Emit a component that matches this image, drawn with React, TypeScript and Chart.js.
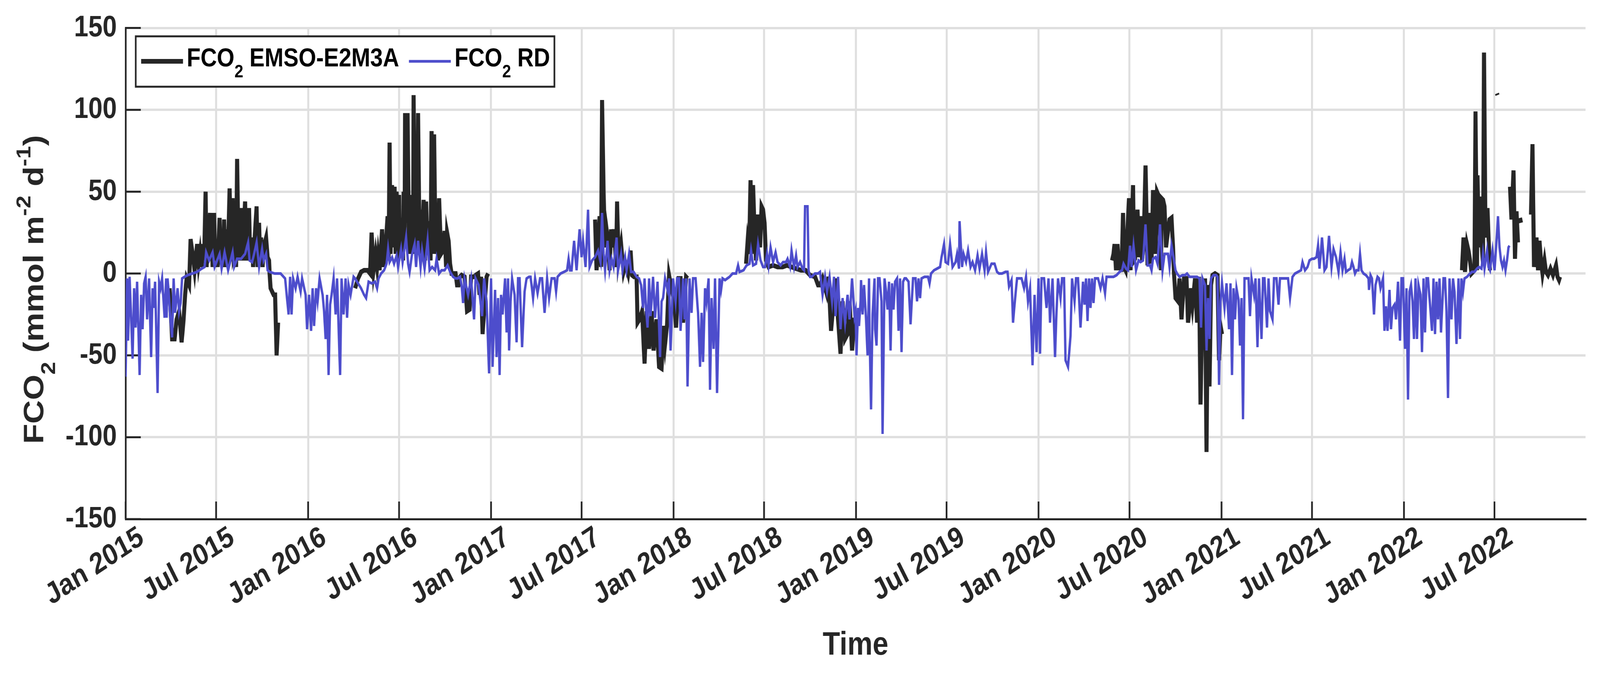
import { useEffect, useRef } from "react"
import { Chart, registerables } from "chart.js"

Chart.register(...registerables)

// x ticks: first of January / July
const tickDates = [
  "2015-01-01", "2015-07-01", "2016-01-01", "2016-07-01",
  "2017-01-01", "2017-07-01", "2018-01-01", "2018-07-01",
  "2019-01-01", "2019-07-01", "2020-01-01", "2020-07-01",
  "2021-01-01", "2021-07-01", "2022-01-01", "2022-07-01",
]
const tickLabels = [
  "Jan 2015", "Jul 2015", "Jan 2016", "Jul 2016",
  "Jan 2017", "Jul 2017", "Jan 2018", "Jul 2018",
  "Jan 2019", "Jul 2019", "Jan 2020", "Jul 2020",
  "Jan 2021", "Jul 2021", "Jan 2022", "Jul 2022",
]
const yTicks = [-150, -100, -50, 0, 50, 100, 150]

// [days since 1 Jan 2015, FCO2 in mmol m-2 d-1], null = no data
const emsoPoints: [number, number | null][] = [
  [88,-9],[93,-40],[98,-40],[102,-28],[107,-23],[112,-42],[116,-28],[119,-13],[122,-3],[127,-7],
  [130,21],[135,10],[138,2],[143,18],[146,6],[149,13],[152,4],[155,18],[157,8],[160,50],[162,4],
  [164,16],[169,37],[171,8],[172,27],[174,4],[177,37],[179,8],[181,16],[184,4],[188,34],[190,6],
  [192,16],[195,4],[197,33],[199,8],[202,27],[203,4],[205,16],[208,52],[211,8],[214,46],[216,12],
  [219,16],[221,4],[223,70],[226,8],[228,16],[231,40],[233,8],[236,25],[239,44],[241,8],[243,16],
  [247,40],[249,8],[253,22],[255,4],[257,16],[262,41],[264,4],[267,31],[269,8],[271,22],[274,4],
  [276,16],[281,22],[284,10],[287,8],[288,0],[290,-9],[293,-11],[296,-13],[299,-13],[302,-50],
  [305,-30],[306,null],
  [459,-9],[465,-3],[471,1],[477,2],[484,2],[489,0],[492,25],[496,2],[500,12],[503,4],[505,11],
  [508,2],[510,12],[513,27],[516,4],[517,8],[520,16],[524,35],[526,8],[528,80],[530,12],[533,54],
  [536,16],[538,53],[540,12],[542,50],[545,8],[547,48],[548,16],[553,34],[555,8],[556,50],[558,16],
  [559,98],[562,31],[564,98],[567,12],[570,48],[572,12],[573,48],[575,16],[576,109],[579,12],
  [582,68],[584,12],[585,98],[588,12],[590,39],[593,16],[596,45],[599,8],[601,44],[604,12],[607,32],
  [610,8],[612,87],[614,12],[617,85],[620,12],[623,29],[625,8],[627,46],[631,12],[635,14],[638,26],
  [641,4],[643,25],[646,20],[649,6],[652,0],[655,0],[660,0],[663,-7],[666,-7],[669,-2],[672,-1],
  [678,-2],[683,-23],[688,-22],[691,-2],[697,-2],[700,-1],[705,0],[708,-13],[711,-2],[714,-37],
  [717,-23],[722,-2],[725,0],[726,null],
  [939,33],[942,2],[945,16],[948,35],[951,4],[953,106],[956,50],[959,16],[962,27],[965,20],[968,2],
  [971,27],[973,16],[976,27],[979,16],[981,4],[983,44],[986,8],[991,18],[996,1],[1000,6],[1005,0],
  [1010,14],[1013,-1],[1017,-2],[1022,-2],[1024,-30],[1028,-28],[1033,-23],[1038,-55],[1042,-23],
  [1047,-46],[1052,-23],[1056,-47],[1062,-28],[1067,-57],[1072,-58],[1076,-32],[1079,-43],
  [1083,-31],[1087,-1],[1092,-9],[1097,-17],[1101,-33],[1106,-3],[1110,-3],[1115,-30],[1121,-2],
  [1124,-3],[1125,null],
  [1241,6],[1244,19],[1247,12],[1250,57],[1252,12],[1255,54],[1258,27],[1261,8],[1265,36],[1269,16],
  [1272,41],[1275,39],[1278,31],[1281,8],[1286,4],[1295,5],[1304,4],[1314,4],[1323,5],[1332,4],
  [1341,3],[1351,2],[1360,2],[1369,-1],[1379,-2],[1385,-7],[1389,-7],[1394,-3],[1402,-12],[1406,-2],
  [1411,-35],[1416,-17],[1420,-3],[1425,-28],[1430,-49],[1434,-17],[1439,-40],[1444,-37],[1448,-17],
  [1453,-47],[1458,-27],[1459,null],
  [1973,8],[1976,12],[1978,18],[1981,2],[1984,18],[1987,2],[1988,13],[1992,1],[1995,37],[1997,4],
  [2000,2],[2002,16],[2007,46],[2010,2],[2015,54],[2017,8],[2019,9],[2024,39],[2027,10],[2030,35],
  [2033,8],[2036,16],[2040,66],[2044,5],[2049,37],[2052,6],[2055,51],[2060,12],[2063,50],[2067,47],
  [2071,2],[2072,46],[2075,45],[2078,41],[2081,16],[2085,26],[2088,33],[2092,34],[2095,16],[2097,0],
  [2100,-15],[2105,-17],[2108,-3],[2112,-28],[2117,-3],[2122,-3],[2125,-30],[2129,-19],[2131,-9],
  [2134,-19],[2139,-3],[2143,-30],[2147,-2],[2150,-80],[2153,-32],[2156,-42],[2159,-3],[2162,-109],
  [2165,-7],[2168,-69],[2171,-7],[2174,-1],[2179,0],[2184,-1],[2187,-53],[2190,-32],[2193,-37],
  [2194,null],
  [2673,2],[2676,22],[2679,1],[2683,18],[2686,14],[2689,8],[2692,0],[2698,2],[2700,99],[2703,2],
  [2704,60],[2707,16],[2709,47],[2712,20],[2715,6],[2717,135],[2720,22],[2724,40],[2728,6],[2729,2],
  [2730,null],[2743,110],[2744,109],[2745,null],
  [2769,53],[2772,33],[2776,63],[2779,9],[2782,38],[2785,19],[2786,null],[2789,34],[2791,31],
  [2792,null],
  [2811,36],[2814,79],[2817,4],[2822,22],[2825,2],[2828,20],[2831,8],[2834,0],[2838,8],[2841,1],
  [2845,-1],[2850,3],[2855,-1],[2861,5],[2864,-2],[2867,-4],[2869,-2],
]

const rdPoints: [number, number][] = [
  [0,-63],[3,-3],[5,-41],[8,-2],[14,-52],[17,-9],[20,-33],[23,-5],[28,-62],[31,-13],[34,-34],[37,-6],
  [40,-2],[43,-28],[47,-3],[51,-51],[54,-9],[56,-21],[59,-5],[64,-73],[67,-5],[70,-9],[73,-3],
  [78,-27],[81,-3],[82,-27],[84,-3],[87,-15],[90,-30],[93,-39],[96,-3],[99,-24],[104,-9],[107,-23],
  [110,-18],[113,-3],[118,-2],[124,-1],[133,0],[143,1],[152,3],[158,4],[161,13],[167,8],[174,13],
  [178,4],[188,12],[192,3],[198,13],[205,2],[214,13],[217,4],[223,9],[231,9],[239,12],[245,19],
  [248,8],[253,7],[257,12],[262,19],[267,4],[273,15],[276,8],[281,12],[284,2],[288,1],[298,0],
  [310,0],[319,-3],[326,-25],[329,-2],[332,-25],[335,-3],[340,-9],[344,-2],[350,-11],[353,-3],
  [360,-13],[363,-34],[367,-13],[371,-35],[374,-9],[377,-32],[381,-9],[384,-17],[388,-3],[394,-13],
  [397,-23],[400,-40],[403,-13],[406,-62],[409,-19],[412,-13],[416,-3],[420,-25],[423,-3],[429,-62],
  [432,-3],[436,-25],[440,-3],[443,-27],[446,-7],[450,-13],[456,-2],[459,-3],[465,-6],[471,-9],
  [477,-13],[481,-15],
  [486,-5],[492,-6],[499,-5],[503,-9],[506,-3],[511,0],[517,2],[522,6],[525,15],[528,7],[533,10],
  [537,6],[542,11],[545,4],[551,15],[554,7],[561,22],[565,6],[568,1],[573,12],[578,18],[581,4],
  [585,20],[590,4],[593,14],[598,3],[604,20],[608,2],[613,4],[619,2],[622,9],[627,0],[632,2],
  [638,2],[644,5],[649,1],[655,-2],[660,-3],[664,-3],[669,-2],[672,-7],[675,-18],[678,-3],[685,-13],
  [691,-3],[697,-28],[700,-3],[706,-7],[713,-26],[717,-3],[722,-17],[727,-61],[731,-3],[734,-57],
  [739,-10],[742,-51],[745,-15],[748,-62],[751,-13],[754,-25],[759,-3],[762,-36],[765,-3],[767,-47],
  [770,-17],[773,-3],[778,-13],[782,-42],[785,-3],[788,-3],[793,-45],[798,-11],[802,-3],[807,-2],
  [810,-2],[815,-15],[819,-3],[824,-12],[829,-3],[833,-3],[838,-24],[843,-3],[847,-15],[852,-3],
  [858,-3],[861,-11],[864,-2],[870,0],[877,1],[883,2],[886,9],[889,2],[892,2],[897,20],[902,2],
  [908,27],[912,10],[915,20],[920,4],[925,39],[928,4],[933,8],[939,10],[945,14],[950,7],[953,37],
  [956,12],[959,2],[964,20],[968,2],[972,9],
  [976,4],[982,22],[985,2],[991,12],[994,2],[999,10],[1002,2],[1007,12],[1011,1],[1016,1],[1022,-2],
  [1027,-3],[1031,-7],[1035,-21],[1038,-3],[1041,-22],[1044,-33],[1047,-3],[1050,-26],[1055,-2],
  [1059,-27],[1064,-5],[1069,-51],[1072,-17],[1075,-15],[1079,-3],[1084,-10],[1087,-3],[1090,-47],
  [1095,-3],[1100,-17],[1103,-3],[1107,-3],[1110,-35],[1115,-3],[1118,-28],[1121,-3],[1124,-69],
  [1128,-3],[1132,-24],[1135,-3],[1140,-3],[1145,-24],[1149,-57],[1152,-24],[1155,-54],[1159,-9],
  [1162,-17],[1166,-3],[1169,-71],[1172,-15],[1176,-46],[1179,-3],[1183,-73],[1188,-3],[1191,-10],
  [1194,-3],[1199,-4],[1208,-2],[1214,0],[1221,0],[1225,5],[1228,1],[1236,2],[1242,5],[1248,6],
  [1251,14],[1255,5],[1261,6],[1265,18],[1270,8],[1275,4],[1279,4],[1283,12],[1286,5],[1290,16],
  [1295,7],[1300,13],[1304,7],[1310,5],[1315,7],[1321,7],[1324,9],[1329,4],[1332,14],[1337,4],
  [1341,11],[1344,4],[1349,7],[1354,3],[1357,2],[1359,41],[1364,41],[1366,2],[1369,-2],[1372,-2],
  [1379,0],[1385,0],[1389,1],[1394,-13],[1399,-2],[1403,-11],[1408,-2],[1413,-17],[1417,-2],
  [1420,-26],[1425,-2],[1430,-34],[1434,-15],[1439,-30],[1444,-13],[1448,-28],[1453,-3],[1458,-26],
  [1460,-23],[1462,-50],[1465,-21],[1467,-32],[1470,-17],[1471,-4],[1474,-25],[1477,-7],[1481,-28],
  [1484,-50],[1487,-3],[1488,-36],[1491,-83],[1494,-25],[1498,-3],[1499,-34],[1502,-44],[1505,-3],
  [1508,-3],[1512,-17],[1514,-98],[1518,-3],[1521,-11],[1524,-22],[1527,-5],[1530,-47],[1533,-6],
  [1536,-22],[1539,-5],[1543,-3],[1546,-35],[1549,-3],[1552,-48],[1555,-5],[1558,-3],[1561,-3],
  [1566,-5],[1570,-31],[1575,-3],[1580,-3],[1583,-17],[1586,-3],[1589,-15],[1592,-3],[1598,-2],
  [1605,-2],[1608,-6],[1611,0],[1617,2],[1623,3],[1629,4],[1632,10],[1637,18],[1640,7],[1645,6],
  [1649,18],[1654,4],[1660,7],[1663,12],[1667,3],[1668,32],[1673,4],[1676,12],[1681,7],[1685,14],
  [1690,4],[1694,7],[1699,2],[1704,11],[1708,3],[1713,12],[1718,2],[1721,13],[1725,1],[1732,6],
  [1738,6],[1743,1],[1747,0],[1753,0],[1760,1],[1764,1],[1767,-8],[1772,-4],[1775,-30],[1778,-19],
  [1783,-3],[1787,-3],[1792,-3],[1797,-9],[1801,-2],[1805,-17],[1809,-9],[1814,-56],[1818,-13],
  [1822,-48],[1826,-3],[1829,-49],[1832,-3],[1837,-3],[1842,-21],[1846,-3],[1849,-30],[1854,-3],
  [1859,-51],[1862,-23],[1865,-3],[1870,-15],[1873,-3],[1877,-3],[1880,-53],[1885,-57],[1890,-38],
  [1893,-3],[1898,-17],[1901,-3],[1905,-3],[1910,-33],[1915,-5],[1918,-19],[1921,-3],[1924,-29],
  [1927,-3],[1930,-21],[1933,-3],[1936,-18],[1939,-3],[1945,-3],
  [1950,-9],[1954,-3],[1959,-12],[1962,-2],[1968,-2],[1976,-2],[1982,-1],[1988,1],[1993,2],[1996,6],
  [2001,3],[2005,2],[2009,17],[2012,4],[2016,17],[2021,2],[2026,8],[2030,7],[2035,8],[2040,30],
  [2044,5],[2049,5],[2052,2],[2055,9],[2060,10],[2064,6],[2069,30],[2074,2],[2078,12],[2085,12],
  [2088,4],[2092,17],[2097,8],[2100,2],[2103,0],[2108,-2],[2114,-1],[2119,-1],[2123,0],[2128,-2],
  [2133,-2],[2137,-2],[2143,-2],[2148,-3],[2151,-33],[2154,-3],[2159,-7],[2162,-47],[2165,-15],
  [2168,-40],[2171,-3],[2176,-1],[2181,-1],[2184,-2],[2187,-68],[2190,-17],[2193,-6],[2198,-21],
  [2202,-6],[2207,-34],[2210,-6],[2213,-62],[2216,-9],[2219,-28],[2222,-9],[2226,-16],[2229,-44],
  [2232,-15],[2235,-89],[2238,-3],[2241,-3],[2246,-3],[2249,-26],[2252,-3],[2257,-13],[2260,-3],
  [2264,-45],[2267,-3],[2272,-40],[2275,-3],[2278,-3],[2283,-33],[2286,-3],[2289,-23],[2294,-28],
  [2297,-3],[2302,-3],[2306,-19],[2309,-3],[2314,-3],[2320,-3],[2325,-3],[2329,-15],[2334,-2],
  [2339,0],[2345,1],[2351,2],[2354,7],[2359,2],[2364,4],[2368,8],[2373,9],[2377,9],[2382,10],
  [2385,17],[2388,3],[2393,22],[2398,2],[2402,4],[2407,23],[2412,4],[2416,15],[2421,10],[2426,1],
  [2430,13],
  [2434,2],[2438,9],[2441,1],[2445,2],[2450,3],[2453,7],[2456,4],[2459,0],[2462,2],[2466,2],[2469,12],
  [2472,2],[2476,0],[2481,-1],[2486,-3],[2487,-10],[2490,-1],[2493,-3],[2497,-25],[2500,-7],[2504,-2],
  [2507,-3],[2510,-9],[2515,-3],[2518,-35],[2521,-20],[2524,-35],[2528,-10],[2531,-34],[2534,-21],
  [2538,-19],[2541,-28],[2545,-5],[2549,-41],[2552,-3],[2555,-3],[2559,-46],[2562,-9],[2565,-77],
  [2568,-11],[2571,-7],[2574,-17],[2577,-40],[2580,-3],[2583,-40],[2586,-7],[2590,-13],[2593,-48],
  [2596,-3],[2599,-36],[2602,-3],[2605,-3],[2610,-23],[2613,-35],[2616,-3],[2619,-37],[2622,-5],
  [2625,-28],[2628,-3],[2631,-36],[2636,-3],[2639,-3],[2642,-23],[2645,-76],[2648,-3],[2652,-28],
  [2655,-3],[2658,-11],[2662,-43],[2666,-3],[2669,-40],[2672,-3],[2675,-11],[2678,-3],[2683,-2],
  [2686,-1],[2689,0],[2693,1],[2698,1],[2703,3],[2707,4],[2712,3],[2715,12],[2718,3],[2723,14],
  [2726,4],[2729,2],[2734,14],[2738,2],[2741,15],[2745,35],[2748,16],[2751,8],[2754,4],[2757,8],
  [2760,2],[2763,8],[2766,16],[2768,17],
]

const DAY0 = Date.UTC(2015, 0, 1)
const toDay = (iso: string) => (Date.parse(iso + "T00:00:00Z") - DAY0) / 86400000
const tickDays = tickDates.map(toDay)

const ink = "#262626"
const blue = "rgb(77,77,204)"
const family = '"Liberation Sans", Arial, Helvetica, sans-serif'

type Part = [string, "" | "sub" | "sup"]

// draws text with TeX-like sub/superscripts, returns its width
function rich(ctx: CanvasRenderingContext2D, parts: Part[], x: number, y: number, size: number, draw = true) {
  let cx = x
  for (const [text, kind] of parts) {
    const fs = kind ? size * 0.7 : size
    ctx.font = `bold ${fs}px ${family}`
    const dy = kind === "sub" ? size * 0.42 : kind === "sup" ? -size * 0.45 : 0
    if (draw) ctx.fillText(text, cx, y + dy)
    cx += ctx.measureText(text).width
  }
  return cx - x
}

const yTitle: Part[] = [["FCO", ""], ["2", "sub"], [" (mmol m", ""], ["-2", "sup"], [" d", ""], ["-1", "sup"], [")", ""]]
const legendItems: { parts: Part[]; color: string; width: number }[] = [
  { parts: [["FCO", ""], ["2", "sub"], [" EMSO-E2M3A", ""]], color: ink, width: 12 },
  { parts: [["FCO", ""], ["2", "sub"], [" RD", ""]], color: blue, width: 7 },
]

const matlabLook = {
  id: "matlabLook",
  beforeDatasetsDraw(chart: any) {
    // inward tick marks
    const { ctx, chartArea } = chart
    const { x, y } = chart.scales
    ctx.save()
    ctx.strokeStyle = ink
    ctx.lineWidth = 5
    ctx.beginPath()
    for (const t of y.ticks) {
      const py = y.getPixelForValue(t.value)
      ctx.moveTo(chartArea.left, py)
      ctx.lineTo(chartArea.left + 45, py)
    }
    for (const t of x.ticks) {
      const px = x.getPixelForValue(t.value)
      ctx.moveTo(px, chartArea.bottom)
      ctx.lineTo(px, chartArea.bottom - 45)
    }
    ctx.stroke()
    ctx.restore()
  },
  afterDraw(chart: any) {
    const { ctx } = chart
    ctx.save()
    ctx.fillStyle = ink
    ctx.textBaseline = "alphabetic"
    ctx.textAlign = "left"

    // y axis title, rotated
    const size = 84
    const w = rich(ctx, yTitle, 0, 0, size, false)
    ctx.translate(128, 741)
    ctx.rotate(-Math.PI / 2)
    rich(ctx, yTitle, -w / 2, 0, size)
    ctx.setTransform(1, 0, 0, 1, 0, 0)

    // legend box
    const fs = 67
    const widths = legendItems.map((it) => rich(ctx, it.parts, 0, 0, fs, false))
    const left = 402, top = 93, height = 129, lineLen = 124
    let total = 16
    widths.forEach((tw, i) => { total += lineLen + 11 + tw + (i < widths.length - 1 ? 29 : 13) })
    ctx.fillStyle = "#ffffff"
    ctx.fillRect(left, top, total, height)
    ctx.strokeStyle = ink
    ctx.lineWidth = 5
    ctx.strokeRect(left, top, total, height)
    let cx = left + 16
    legendItems.forEach((it, i) => {
      ctx.strokeStyle = it.color
      ctx.lineWidth = it.width
      ctx.beginPath()
      ctx.moveTo(cx, 157)
      ctx.lineTo(cx + lineLen, 157)
      ctx.stroke()
      cx += lineLen + 11
      ctx.fillStyle = "#000000"
      rich(ctx, it.parts, cx, 170, fs)
      cx += widths[i] + 29
    })
    ctx.restore()
  },
}

export default function App() {
  const canvasRef = useRef<HTMLCanvasElement>(null)
  const chartRef = useRef<Chart | null>(null)

  useEffect(() => {
    document.body.style.margin = "0"
    document.body.style.overflow = "hidden"
    if (!canvasRef.current) return
    if (chartRef.current) chartRef.current.destroy()

    chartRef.current = new Chart(canvasRef.current, {
      type: "line",
      data: {
        datasets: [
          {
            label: "FCO2 EMSO-E2M3A",
            data: emsoPoints.map(([d, v]) => ({ x: d, y: v })),
            borderColor: ink,
            borderWidth: 12,
            pointRadius: 0,
            spanGaps: false,
            order: 2,
          },
          {
            label: "FCO2 RD",
            data: rdPoints.map(([d, v]) => ({ x: d, y: v })),
            borderColor: blue,
            borderWidth: 7,
            pointRadius: 0,
            order: 1,
          },
        ],
      },
      options: {
        responsive: false,
        animation: false,
        devicePixelRatio: 1,
        events: [],
        layout: { padding: { left: 0, right: 43, top: 63, bottom: 0 } },
        plugins: { legend: { display: false }, tooltip: { enabled: false } },
        scales: {
          x: {
            type: "linear",
            min: 0,
            max: 2920,
            afterBuildTicks: (s: any) => { s.ticks = tickDays.map((v) => ({ value: v })) },
            afterFit: (s: any) => { s.height = 394 },
            grid: { color: "#dfdfdf", lineWidth: 6, drawTicks: false },
            border: { color: ink, width: 5 },
            ticks: {
              autoSkip: false,
              minRotation: 30,
              maxRotation: 30,
              padding: 2,
              labelOffset: 48,
              color: ink,
              font: { family, size: 76, weight: "bold" },
              callback: (v: any) => tickLabels[tickDays.indexOf(Number(v))] ?? "",
            },
            title: {
              display: true,
              text: "Time",
              color: ink,
              font: { family, size: 84, weight: "bold" },
              padding: { top: 0, bottom: 20 },
            },
          },
          y: {
            min: -150,
            max: 150,
            afterBuildTicks: (s: any) => { s.ticks = yTicks.map((v) => ({ value: v })) },
            afterFit: (s: any) => { s.width = 372 },
            grid: { color: "#dfdfdf", lineWidth: 6, drawTicks: false },
            border: { color: ink, width: 5 },
            ticks: {
              padding: 26,
              color: ink,
              font: { family, size: 76, weight: "bold" },
            },
          },
        },
      },
      plugins: [matlabLook],
    } as any)

    return () => {
      if (chartRef.current) {
        chartRef.current.destroy()
        chartRef.current = null
      }
    }
  }, [])

  // backing store is 4739x1723; CSS size follows the viewport
  return (
    <canvas
      ref={canvasRef}
      width={4739}
      height={1723}
      style={{ display: "block", width: "100vw", height: "100vh" }}
    />
  )
}
